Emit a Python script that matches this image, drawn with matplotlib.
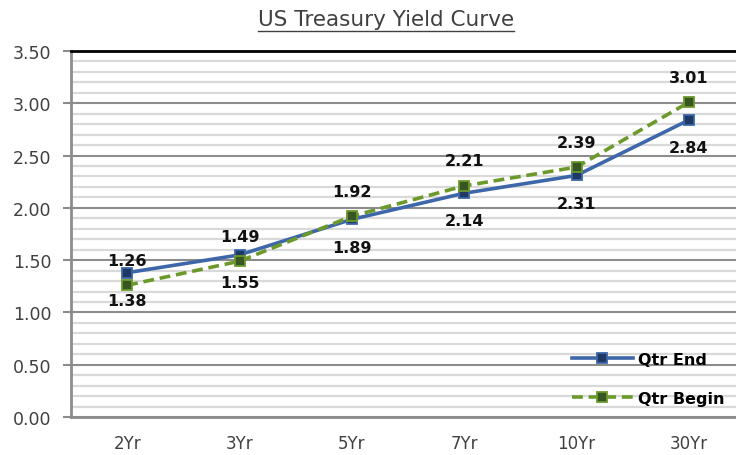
import matplotlib.pyplot as plt
from matplotlib.lines import Line2D
from matplotlib.ticker import MultipleLocator

plt.rcParams['font.family'] = ['DejaVu Sans']

tenors = ["2Yr", "3Yr", "5Yr", "7Yr", "10Yr", "30Yr"]
qtr_end = [1.38, 1.55, 1.89, 2.14, 2.31, 2.84]
qtr_begin = [1.26, 1.49, 1.92, 2.21, 2.39, 3.01]

W, H = 736, 456
fig = plt.figure(figsize=(W / 100, H / 100), dpi=100)
# plot area runs past the right edge like in the original
ax = fig.add_axes([71 / W, 1 - 418 / H, 674 / W, 366 / H])

x = list(range(len(tenors)))
ax.plot(x, qtr_end, color="#3d67a8", lw=2.6, marker="s", ms=7,
        mfc="#1f3864", mec="#3d67a8", mew=1.3, label="Qtr End", zorder=4)
ax.plot(x, qtr_begin, color="#6b9a2a", lw=2.6, ls=(0, (3, 1.6)), marker="s", ms=7,
        mfc="#375623", mec="#6b9a2a", mew=1.3, label="Qtr Begin", zorder=5)

for i, v in enumerate(qtr_begin):
    ax.annotate(f"{v:.2f}", (i, v), xytext=(0, 18), textcoords="offset points",
                ha="center", va="center", fontsize=11.5, fontweight="bold", color="#111111")
for i, v in enumerate(qtr_end):
    ax.annotate(f"{v:.2f}", (i, v), xytext=(0, -20), textcoords="offset points",
                ha="center", va="center", fontsize=11.5, fontweight="bold", color="#111111")

ax.set_xlim(-0.5, 5.5)
ax.set_ylim(0, 3.5)
ax.set_xticks(x)
ax.set_xticklabels(tenors)
ax.yaxis.set_major_locator(MultipleLocator(0.5))
ax.yaxis.set_minor_locator(MultipleLocator(0.1))
ax.yaxis.set_major_formatter(lambda v, p: f"{v:.2f}")
ax.tick_params(axis="y", which="major", length=6, width=1.5, color="#8c8c8c",
               labelsize=12.5, labelcolor="#404040", pad=8)
ax.tick_params(axis="y", which="minor", length=0)
ax.tick_params(axis="x", length=0, labelsize=12, labelcolor="#404040", pad=12)

ax.grid(axis="y", which="minor", color="#d9d9d9", lw=1.6)
ax.grid(axis="y", which="major", color="#8c8c8c", lw=1.5)
ax.set_axisbelow(True)

ax.spines["right"].set_visible(False)
ax.spines["top"].set_color("black")
ax.spines["top"].set_linewidth(2)
for side in ["left", "bottom"]:
    ax.spines[side].set_color("#8c8c8c")
    ax.spines[side].set_linewidth(2)

ax.legend(loc="lower right", bbox_to_anchor=(724 / W, 1 - 407 / H),
          bbox_transform=fig.transFigure, frameon=False, borderpad=0,
          borderaxespad=0, prop={"weight": "bold", "size": 11.5},
          handlelength=3.8, labelspacing=1.5, handletextpad=0.3)

title = fig.text(386 / W, 1 - 20 / H, "US Treasury Yield Curve", ha="center",
                 va="center", fontsize=15.5, color="#404040")
fig.canvas.draw()
bb = title.get_window_extent().transformed(fig.transFigure.inverted())
fig.add_artist(Line2D([bb.x0, bb.x1], [bb.y0 - 0.004, bb.y0 - 0.004],
                      transform=fig.transFigure, color="#404040", lw=1))

plt.savefig("out.png", dpi=100)
